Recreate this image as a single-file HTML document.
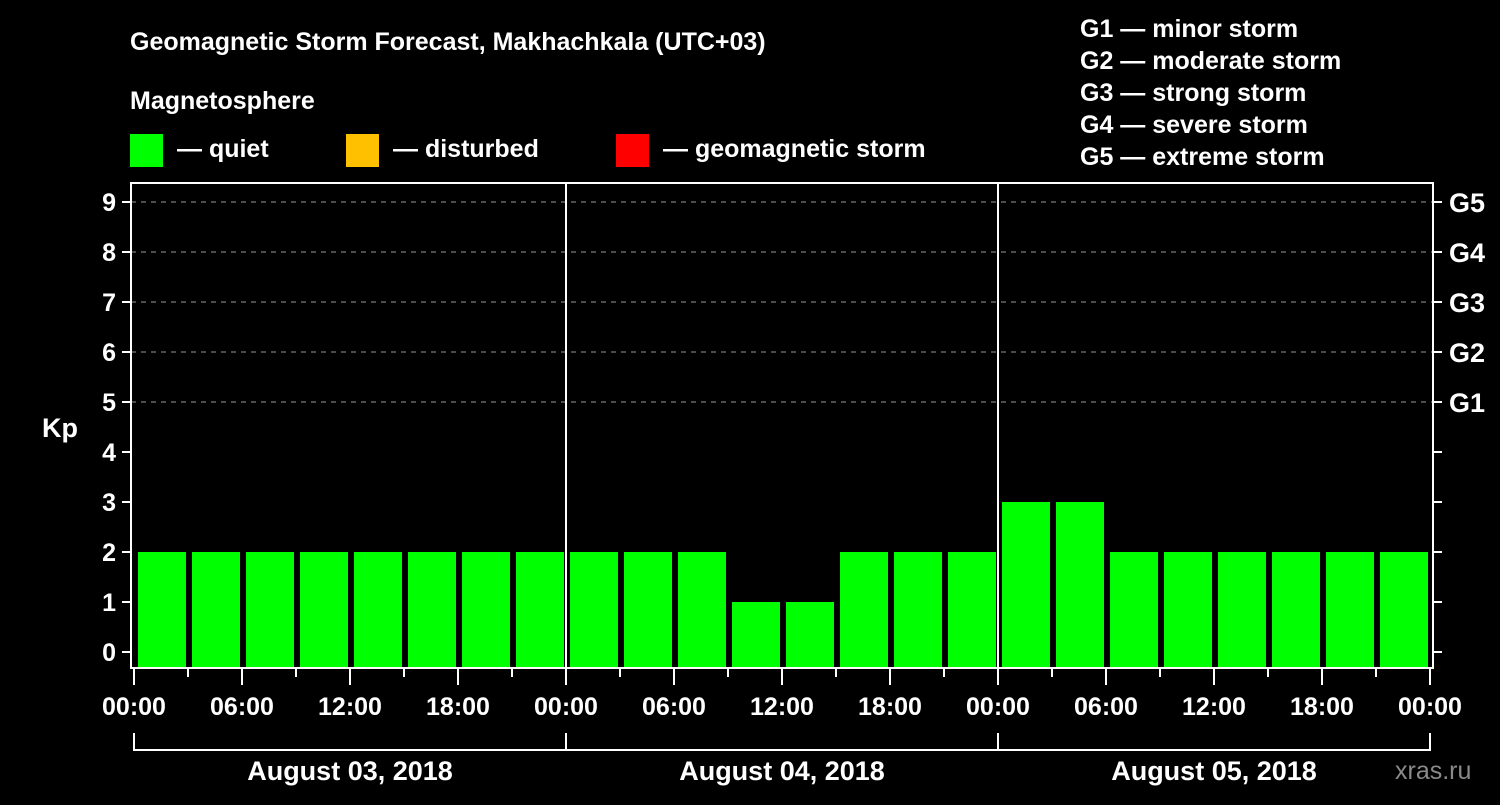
<!DOCTYPE html>
<html><head><meta charset="utf-8"><style>
body{margin:0;background:#000;width:1500px;height:800px;overflow:hidden}
svg text{font-family:"Liberation Sans",sans-serif;font-weight:bold;fill:#fff}
</style></head><body>
<svg id="c" width="1500" height="800" viewBox="0 0 1500 800">
<rect width="1500" height="800" fill="#000"/>
<text x="130" y="50" font-size="25">Geomagnetic Storm Forecast, Makhachkala (UTC+03)</text>
<text x="130" y="109" font-size="25">Magnetosphere</text>
<g><rect x="130" y="134" width="33" height="33" fill="#00ff00"/><text x="177" y="157" font-size="25">— quiet</text></g>
<g><rect x="346" y="134" width="33" height="33" fill="#ffc000"/><text x="393" y="157" font-size="25">— disturbed</text></g>
<g><rect x="616" y="134" width="33" height="33" fill="#ff0000"/><text x="663" y="157" font-size="25">— geomagnetic storm</text></g>
<g font-size="25">
<text x="1080" y="37">G1 — minor storm</text>
<text x="1080" y="69">G2 — moderate storm</text>
<text x="1080" y="101">G3 — strong storm</text>
<text x="1080" y="133">G4 — severe storm</text>
<text x="1080" y="165">G5 — extreme storm</text>
</g>
<text x="42" y="437" font-size="27">Kp</text>
<text x="1395" y="779" font-size="25" fill="#999" style="fill:#8a8a8a;font-weight:normal">xras.ru</text>
<g id="g"></g>
</svg>
<script>
const kpValues=[2,2,2,2,2,2,2,2, 2,2,2,1,1,2,2,2, 3,3,2,2,2,2,2,2];
const dayLabels=["August 03, 2018","August 04, 2018","August 05, 2018"];
const hourLabels=["00:00","06:00","12:00","18:00"];
const yTicks=[0,1,2,3,4,5,6,7,8,9];
const gLabels=["G1","G2","G3","G4","G5"];
const NS="http://www.w3.org/2000/svg";
const g=document.getElementById('g');
const X0=134,DAYW=432,PL=131,PR=1433,PT=183,PB=668;
const y=v=>652-50*v;
const slotW=DAYW/8;
const x=i=>X0+i*slotW;
function mk(t,a){const e=document.createElementNS(NS,t);for(const k in a)e.setAttribute(k,a[k]);g.appendChild(e);return e;}
yTicks.forEach(v=>{
 if(v>=5){const l=mk('line',{x1:PL,x2:PR,y1:y(v),y2:y(v),stroke:'#999','stroke-dasharray':'5,5'});
 
 }
 const t=mk('line',{x1:122,x2:PL,y1:y(v),y2:y(v),stroke:'#fff','stroke-width':2});
 
 
 const r=mk('line',{x1:PR,x2:1442,y1:y(v),y2:y(v),stroke:'#fff','stroke-width':2});
 
 
 const tx=mk('text',{x:116,y:y(v)+9,'font-size':25,'text-anchor':'end'});tx.textContent=v;
 
 
});
gLabels.forEach((s,i)=>{const tx=mk('text',{x:1449,y:y(5+i)+10,'font-size':27});tx.textContent=s;
 
 });
kpValues.forEach((v,i)=>{
 const c=v>=5?'#ff0000':(v>=4?'#ffc000':'#00ff00');
 const b=mk('rect',{x:x(i)+4,y:y(v),width:slotW-6,height:PB-y(v),fill:c});
 
 
});
const f=mk('rect',{x:PL,y:PT,width:PR-PL,height:PB-PT,fill:'none',stroke:'#fff','stroke-width':2});


for(let d=1;d<dayLabels.length;d++){const l=mk('line',{x1:X0+d*DAYW,x2:X0+d*DAYW,y1:PT,y2:PB,stroke:'#fff','stroke-width':2});
 
 }
for(let i=0;i<=kpValues.length;i++){
 const xx=x(i),major=i%2==0;
 const t=mk('line',{x1:xx,x2:xx,y1:PB,y2:major?685:677,stroke:'#fff','stroke-width':2});
 
 
 if(major){const tx=mk('text',{x:xx,y:715,'font-size':25,'text-anchor':'middle'});tx.textContent=hourLabels[(i/2)%4];
 
 }
}
dayLabels.forEach((s,d)=>{
 const x1=X0+d*DAYW,x2=x1+DAYW;
 const p=mk('path',{d:`M${x1},733V750H${x2}V733`,fill:'none',stroke:'#fff','stroke-width':2});
 
 
 const tx=mk('text',{x:(x1+x2)/2,y:780,'font-size':27,'text-anchor':'middle'});tx.textContent=s;
 
 
});
</script>
</body></html>
